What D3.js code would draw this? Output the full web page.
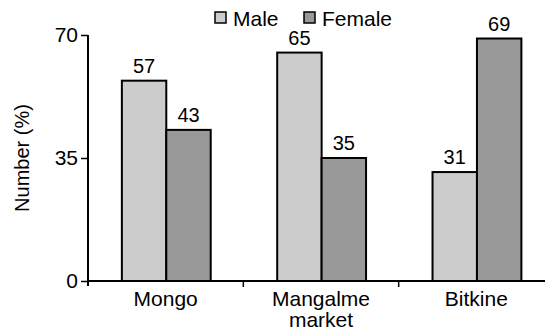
<!DOCTYPE html>
<html><head><meta charset="utf-8">
<script src="https://cdn.jsdelivr.net/npm/d3@7"></script>
<style>
body{margin:0;background:#fff;}
text{font-family:"Liberation Sans",Arial,sans-serif;fill:#000;}
</style></head>
<body><svg id="c" width="545" height="333"></svg>
<script>
const categories = [["Mongo"], ["Mangalme","market"], ["Bitkine"]];
const seriesNames = ["Male", "Female"];
const maleValues = [57, 65, 31];
const femaleValues = [43, 35, 69];
const yTicks = [0, 35, 70];
const colors = ["#cccccc", "#999999"];

const svg = d3.select("#c");
const x0 = d3.scaleBand().domain(d3.range(categories.length)).range([88, 554]).padding(0);
const bw = x0.bandwidth();
const x1 = d3.scaleBand().domain(seriesNames).range([bw*0.218, bw*0.79]).padding(0);
const y = d3.scaleLinear().domain([0, 70]).range([281, 35]);

const values = [maleValues, femaleValues];

// bars
categories.forEach((c, i) => {
  seriesNames.forEach((s, j) => {
    const v = values[j][i];
    const bx = x0(i) + x1(s);
    svg.append("rect")
      .attr("x", bx).attr("y", y(v))
      .attr("width", x1.bandwidth()).attr("height", y(0) - y(v))
      .attr("fill", colors[j]).attr("stroke", "#000").attr("stroke-width", 2);
    svg.append("text")
      .attr("x", bx + x1.bandwidth()/2).attr("y", y(v) - 8)
      .attr("text-anchor", "middle").attr("font-size", 20)
      .text(v);
  });
});

// y axis
const yAxis = d3.axisLeft(y).tickValues(yTicks).tickSize(7).tickPadding(3).tickSizeOuter(0);
const gy = svg.append("g").attr("transform", "translate(88,0)").call(yAxis);
gy.select(".domain").remove();
gy.append("line").attr("x1",0).attr("x2",0).attr("y1",y(70)).attr("y2",y(0)+5).attr("stroke","#000").attr("stroke-width",2);
gy.selectAll(".tick line").attr("stroke","#000").attr("stroke-width",1.5);
gy.selectAll(".tick text").attr("font-size",21).attr("font-family","Liberation Sans, Arial, sans-serif").attr("fill","#000");

// x axis
svg.append("line").attr("x1", 87).attr("x2", 554).attr("y1", y(0)).attr("y2", y(0))
  .attr("stroke", "#000").attr("stroke-width", 2);
d3.range(1, categories.length).forEach(i => {
  svg.append("line").attr("x1", x0(i)).attr("x2", x0(i)).attr("y1", y(0)).attr("y2", y(0)+6)
    .attr("stroke", "#000").attr("stroke-width", 1.5);
});
categories.forEach((c, i) => {
  const t = svg.append("text").attr("x", x0(i) + bw/2).attr("y", 306)
    .attr("text-anchor", "middle").attr("font-size", 21);
  c.forEach((line, k) => {
    t.append("tspan").attr("x", x0(i) + bw/2).attr("dy", k === 0 ? 0 : 21).text(line);
  });
});

// y label
svg.append("text").attr("transform", "translate(29,158) rotate(-90)")
  .attr("text-anchor", "middle").attr("font-size", 20).text("Number (%)");

// legend
const legendX = [215, 304];
seriesNames.forEach((s, j) => {
  svg.append("rect").attr("x", legendX[j]).attr("y", 12).attr("width", 11).attr("height", 11)
    .attr("fill", colors[j]).attr("stroke", "#000").attr("stroke-width", 1.5);
  svg.append("text").attr("x", legendX[j] + 18).attr("y", 26).attr("font-size", 21).text(s);
});
</script></body></html>
